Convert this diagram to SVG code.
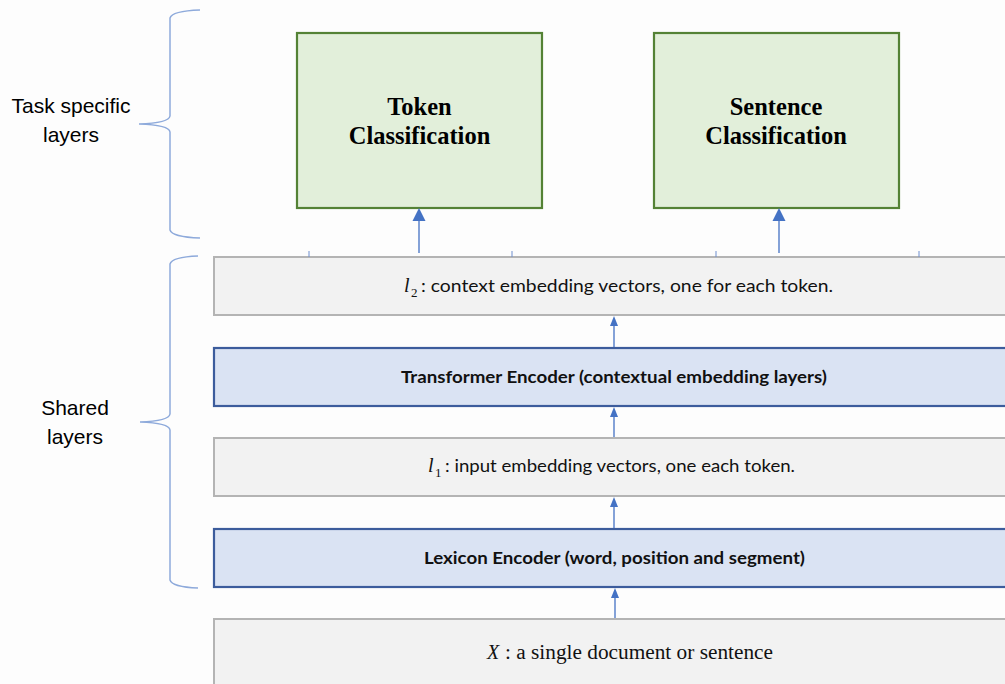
<svg xmlns="http://www.w3.org/2000/svg" width="1005" height="684" viewBox="0 0 1005 684">
<defs>
<style>
.side{font-family:"Liberation Sans",Arial,sans-serif;font-size:21px;fill:#000;text-anchor:middle}
.head{font-family:"Liberation Serif","Times New Roman",serif;font-size:24.5px;font-weight:bold;fill:#000;text-anchor:middle}
.body{font-family:Lato,"Open Sans",sans-serif;font-size:17px;fill:#111}
.bold{font-weight:bold}
.math{font-family:"Liberation Serif","Times New Roman",serif;font-style:italic;fill:#111}
.sub{font-family:"Liberation Serif","Times New Roman",serif;font-style:normal;font-size:13px;fill:#111}
.green{fill:#e2efda;stroke:#548235;stroke-width:2.2}
.gray{fill:#f2f2f2;stroke:#b4b4b4;stroke-width:2}
.blue{fill:#dae3f3;stroke:#3c5c9c;stroke-width:2.2}
.brace{fill:none;stroke:#8eaadb;stroke-width:1.5}
.conn{stroke:#4472c4;stroke-width:1.3;fill:none}
.head-arrow{fill:#4472c4}
.tick{stroke:#6f8fcf;stroke-width:1}
</style>
</defs>
<rect width="1005" height="684" fill="#fdfdfd"/>

<g id="brace-task">
<path class="brace" d="M200,10 Q172,11 170,18 L170,116 Q169,123 139,124 Q169,125 170,132 L170,230 Q172,237 200,238"/>
<text class="side" x="71" y="113">Task specific</text>
<text class="side" x="71" y="142">layers</text>
</g>

<g id="brace-shared">
<path class="brace" d="M198,256 Q172,257 170,264 L170,414 Q169,421 140,422 Q169,423 170,430 L170,580 Q172,587 198,588"/>
<text class="side" x="75" y="415">Shared</text>
<text class="side" x="75" y="444">layers</text>
</g>

<g id="token-classification">
<rect class="green" x="297" y="33" width="245" height="175"/>
<text class="head" x="419.5" y="115">Token</text>
<text class="head" x="419.5" y="144">Classification</text>
</g>

<g id="sentence-classification">
<rect class="green" x="654" y="33" width="245" height="175"/>
<text class="head" x="776" y="115">Sentence</text>
<text class="head" x="776" y="144">Classification</text>
</g>

<g id="l2">
<rect class="gray" x="214" y="257" width="800" height="58"/>
<text class="math" x="404" y="292" font-size="20">l</text>
<text class="sub" x="411" y="297">2</text>
<text class="body" x="421" y="292" textLength="412" lengthAdjust="spacingAndGlyphs">: context embedding vectors, one for each token.</text>
</g>

<g id="transformer">
<rect class="blue" x="214" y="348" width="800" height="58"/>
<text class="body bold" x="401" y="383" textLength="426" lengthAdjust="spacingAndGlyphs">Transformer Encoder (contextual embedding layers)</text>
</g>

<g id="l1">
<rect class="gray" x="214" y="438" width="800" height="58"/>
<text class="math" x="428" y="472" font-size="20">l</text>
<text class="sub" x="435" y="477">1</text>
<text class="body" x="445" y="472" textLength="350" lengthAdjust="spacingAndGlyphs">: input embedding vectors, one each token.</text>
</g>

<g id="lexicon">
<rect class="blue" x="214" y="529" width="800" height="58"/>
<text class="body bold" x="424" y="564" textLength="381" lengthAdjust="spacingAndGlyphs">Lexicon Encoder (word, position and segment)</text>
</g>

<g id="input-x">
<rect class="gray" x="214" y="619" width="800" height="80"/>
<text class="math" x="487" y="659" font-size="20">X</text>
<text x="505" y="659" font-family="Liberation Serif, Times New Roman, serif" font-size="20" fill="#111" textLength="268" lengthAdjust="spacingAndGlyphs">: a single document or sentence</text>
</g>

<g id="connectors">
<line class="tick" x1="309" y1="251" x2="309" y2="257"/>
<line class="tick" x1="512" y1="251" x2="512" y2="257"/>
<line class="tick" x1="716" y1="251" x2="716" y2="257"/>
<line class="tick" x1="919" y1="251" x2="919" y2="257"/>
<line class="conn" x1="419" y1="253" x2="419" y2="221"/>
<path class="head-arrow" d="M412.5,221 L419,208 L425.5,221 Z"/>
<line class="conn" x1="779" y1="253" x2="779" y2="221"/>
<path class="head-arrow" d="M772.5,221 L779,208 L785.5,221 Z"/>
<line class="conn" x1="614" y1="347" x2="614" y2="325"/>
<path class="head-arrow" d="M610,326 L614,316 L618,326 Z"/>
<line class="conn" x1="614" y1="437" x2="614" y2="416"/>
<path class="head-arrow" d="M610,417 L614,407 L618,417 Z"/>
<line class="conn" x1="614" y1="528" x2="614" y2="506"/>
<path class="head-arrow" d="M610,507 L614,497 L618,507 Z"/>
<line class="conn" x1="615" y1="618" x2="615" y2="597"/>
<path class="head-arrow" d="M611,598 L615,588 L619,598 Z"/>
</g>
</svg>
